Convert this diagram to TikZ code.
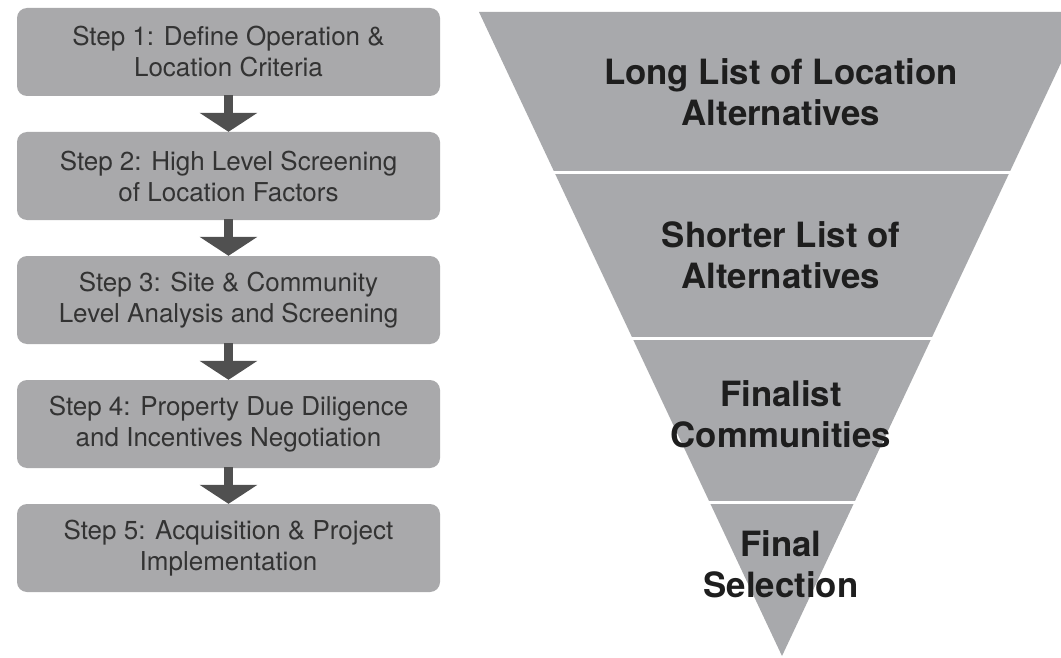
\documentclass[tikz,border=0pt]{standalone}
\usepackage{fontspec}
\setmainfont{TeX Gyre Heros}
\usetikzlibrary{arrows.meta}
\definecolor{boxgray}{HTML}{A9A9AB}
\definecolor{fungray}{HTML}{A8A9AC}
\definecolor{arrgray}{HTML}{505050}
\definecolor{steptext}{HTML}{333333}
\definecolor{funtext}{HTML}{1E1E1E}
\tikzset{
  stepbox/.style={fill=boxgray, draw=none, rounded corners=10pt, minimum width=423pt,
    minimum height=88pt, align=center, text=steptext, inner sep=0pt,
    font=\fontsize{26}{31}\selectfont},
  flowarrow/.style={draw=arrgray, line width=9pt, -{Triangle[width=57pt,length=19pt]}, shorten <=-1pt},
  funlabel/.style={align=center, text=funtext, inner sep=0pt,
    font=\fontsize{34.8}{41}\selectfont\bfseries},
  sepline/.style={draw=white, line width=3pt}
}
\begin{document}
\begin{tikzpicture}[x=1pt, y=-1pt]
\useasboundingbox (0,0) rectangle (1061,658);
\fill[white] (0,0) rectangle (1061,658);
% step boxes
\node[stepbox] (s1) at (228.5,52) {Step 1: Define Operation \&\\Location Criteria};
\node[stepbox] (s2) at (228.5,176) {Step 2: High Level Screening\\of Location Factors};
\node[stepbox] (s3) at (228.5,300) {Step 3: Site \& Community\\Level Analysis and Screening};
\node[stepbox] (s4) at (228.5,424) {Step 4: Property Due Diligence\\and Incentives Negotiation};
\node[stepbox] (s5) at (228.5,548) {Step 5: Acquisition \& Project\\Implementation};
\draw[flowarrow] (s1.south) -- (s2.north);
\draw[flowarrow] (s2.south) -- (s3.north);
\draw[flowarrow] (s3.south) -- (s4.north);
\draw[flowarrow] (s4.south) -- (s5.north);
% funnel
\begin{scope}
\clip (0,0) rectangle (1061,658);
\fill[fungray] (479,12) -- (1085,12) -- (782,656) -- cycle;
\draw[sepline] (500,173) -- (1061,173);
\draw[sepline] (560,338) -- (1000,338);
\draw[sepline] (640,502) -- (920,502);
\end{scope}
% funnel labels
\node[funlabel] (f1) at (781,92) {Long List of Location\\Alternatives};
\node[funlabel] (f2) at (781,255) {Shorter List of\\Alternatives};
\node[funlabel] (f3) at (781,414) {Finalist\\Communities};
\node[funlabel] (f4) at (781,564) {Final\\Selection};
\end{tikzpicture}
\end{document}
